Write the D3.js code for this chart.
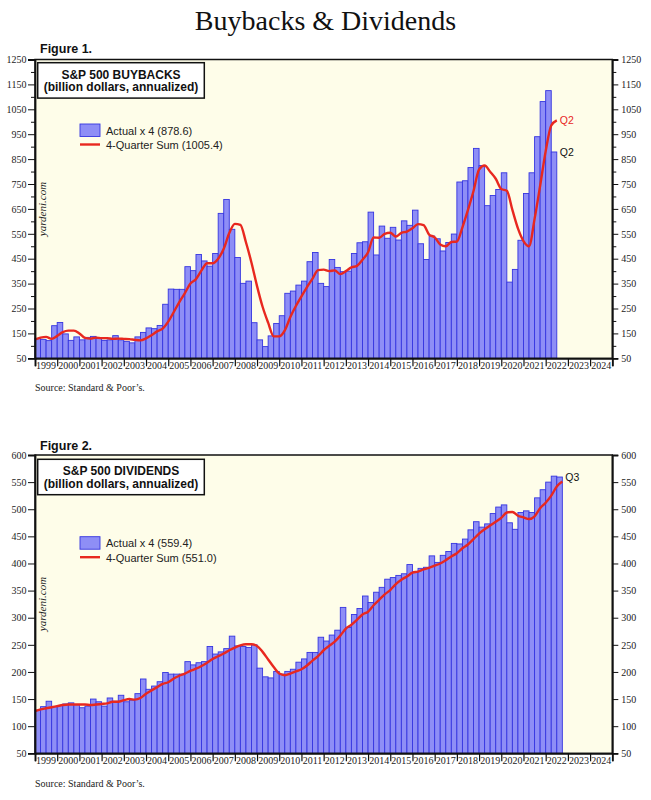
<!DOCTYPE html>
<html><head><meta charset="utf-8">
<script src="https://cdn.jsdelivr.net/npm/d3@7"></script>
<style>body{margin:0;background:#fff} svg{display:block}</style>
</head><body>
<svg id="c" width="651" height="800"></svg>
<script>
// ---- DATA ----
const years = ["1999","2000","2001","2002","2003","2004","2005","2006","2007","2008","2009","2010","2011","2012","2013","2014","2015","2016","2017","2018","2019","2020","2021","2022","2023","2024"];
const startYear = 1999;

// Buybacks, actual x 4 (quarterly, 1999Q1 .. 2022Q2)
const buybacksActual = [
  129,126,121,181, 194,148,122,136, 124,134,138,130, 122,124,141,124,
  118,112,136,154, 172,169,182,267, 328,327,327,418, 402,467,441,420,
  471,632,688,568, 455,351,360,193, 124,97,140,190, 221,311,320,344,
  360,438,475,351, 338,447,415,398, 400,471,514,518, 637,465,581,532,
  576,525,602,584, 645,510,447,541, 530,481,515,549, 758,763,816,893,
  824,663,704,728, 795,356,407,524, 712,795,940,1081, 1125,878.6
];
// Buybacks, 4-quarter sum (quarter ends, 1998Q4 .. 2022Q2)
const buybacksSum = [
  126,
  133,136,128,140, 155,161,161,150, 132,129,133,131, 131,128,129,128,
  127,124,122,130, 143,158,169,197, 236,276,312,350, 368,403,432,432,
  450,490,553,590, 586,516,434,340, 257,193,138,138, 162,216,260,299,
  336,370,404,406, 400,403,388,400, 415,421,446,476, 535,534,550,554,
  539,554,559,572, 589,585,547,536, 507,500,517,519, 576,646,722,808,
  824,799,771,730, 723,646,572,521, 500,610,743,882, 985,1005.4
];
// Dividends, actual x 4 (1999Q1 .. 2022Q3)
const dividendsActual = [
  129,136,146,136, 138,141,143,140, 134,137,150,145, 137,152,146,157,
  145,148,160,187, 168,174,182,199, 196,196,196,219, 213,217,219,247,
  233,237,243,266, 248,247,245,250, 207,191,189,201, 196,201,205,218,
  224,236,236,264, 257,268,277,319, 282,306,317,340, 328,347,356,371,
  374,378,381,398, 384,391,393,414, 402,415,422,437, 436,445,462,477,
  467,473,492,504, 508,475,463,494, 497,494,521,536, 550,561,559.4
];
// Dividends, 4-quarter sum (1998Q4 .. 2022Q3)
const dividendsSum = [
  128,
  131,133,135,137, 139,140,140,140, 140,139,140,141, 142,145,145,148,
  150,149,152,160, 166,172,178,181, 188,193,197,202, 206,211,217,224,
  229,234,240,245, 249,251,251,248, 237,223,209,197, 194,197,201,205,
  212,221,229,240, 248,256,267,280, 287,296,306,311, 323,333,343,351,
  362,370,376,383, 385,389,392,396, 400,406,413,419, 428,435,445,455,
  463,470,477,484, 494,495,488,485, 482,487,502,512, 525,542,551.0
];

// ---- DRAWING ----
const SERIF = "'Liberation Serif','Times New Roman',serif";
const SANS = "'Liberation Sans',Arial,Helvetica,sans-serif";
const BAR_FILL = "#8e8ef6", BAR_STROKE = "#3535e0", RED = "#e8281f", BG = "#fefde9";

const svg = d3.select("#c");
svg.append("text").attr("x", 325.5).attr("y", 30).attr("text-anchor", "middle")
  .style("font-family", SERIF).style("font-size", "28px").attr("fill", "#111")
  .text("Buybacks & Dividends");

const x = d3.scaleLinear().domain([startYear, startYear + years.length]).range([35, 612.3]);

function panel(c) {
  const y = d3.scaleLinear().domain(c.yDomain).range([c.bottom, c.top]);
  const g = svg.append("g");

  g.append("text").attr("x", 40).attr("y", c.figY)
    .style("font-family", SANS).style("font-weight", "bold").style("font-size", "12.5px")
    .attr("fill", "#111").text(c.figLabel);

  g.append("rect").attr("x", x.range()[0]).attr("y", c.top)
    .attr("width", x.range()[1] - x.range()[0]).attr("height", c.bottom - c.top)
    .attr("fill", BG);

  // bars
  const bars = c.actual.map((v, i) => ({ t: startYear + i / 4, v }));
  g.append("g").selectAll("rect").data(bars).join("rect")
    .attr("x", d => x(d.t)).attr("width", d => x(d.t + 0.25) - x(d.t))
    .attr("y", d => y(d.v)).attr("height", d => y(c.yDomain[0]) - y(d.v))
    .attr("fill", BAR_FILL).attr("stroke", BAR_STROKE).attr("stroke-width", 0.9);

  // line
  const pts = c.sum.map((v, i) => ({ t: startYear + i / 4, v }));
  g.append("path").datum(pts)
    .attr("d", d3.line().x(d => x(d.t)).y(d => y(d.v)).curve(d3.curveMonotoneX))
    .attr("fill", "none").attr("stroke", RED).attr("stroke-width", 2.4)
    .attr("stroke-linejoin", "round");

  // frame
  g.append("rect").attr("x", x.range()[0]).attr("y", c.top)
    .attr("width", x.range()[1] - x.range()[0]).attr("height", c.bottom - c.top)
    .attr("fill", "none").attr("stroke", "#111").attr("stroke-width", 1.5);

  // y axes
  const styleAxis = sel => {
    sel.select(".domain").attr("stroke", "#111").attr("stroke-width", 1.8);
    sel.selectAll(".tick line").attr("stroke", "#111").attr("stroke-width", 1);
    sel.selectAll(".tick text").style("font-family", SERIF).style("font-size", "10px").attr("fill", "#222");
  };
  g.append("g").attr("transform", `translate(${x.range()[0]},0)`)
    .call(d3.axisLeft(y).tickValues(c.major).tickSize(7).tickPadding(1.5).tickFormat(d3.format("d")))
    .call(styleAxis);
  g.append("g").attr("transform", `translate(${x.range()[1]},0)`)
    .call(d3.axisRight(y).tickValues(c.major).tickSize(6).tickPadding(3).tickFormat(d3.format("d")))
    .call(styleAxis);
  if (c.minor.length) {
    g.append("g").attr("transform", `translate(${x.range()[0]},0)`)
      .call(d3.axisLeft(y).tickValues(c.minor).tickSize(4).tickFormat(""))
      .call(s => { s.select(".domain").remove(); s.selectAll("line").attr("stroke", "#111"); });
    g.append("g").attr("transform", `translate(${x.range()[1]},0)`)
      .call(d3.axisRight(y).tickValues(c.minor).tickSize(4).tickFormat(""))
      .call(s => { s.select(".domain").remove(); s.selectAll("line").attr("stroke", "#111"); });
  }

  // x axis
  const yearTicks = d3.range(startYear, startYear + years.length + 1);
  g.append("g").attr("transform", `translate(0,${c.bottom})`)
    .call(d3.axisBottom(x).tickValues(yearTicks).tickSize(8).tickFormat(""))
    .call(s => { s.select(".domain").attr("stroke", "#111").attr("stroke-width", 1.8);
                 s.selectAll(".tick line").attr("stroke", "#111").attr("stroke-width", 1.2); });
  g.append("g").selectAll("text").data(years).join("text")
    .attr("x", (d, i) => x(startYear + i + 0.5)).attr("y", c.bottom + 11)
    .attr("text-anchor", "middle").style("font-family", SERIF).style("font-size", "10px")
    .attr("fill", "#222").text(d => d);

  // title box
  g.append("rect").attr("x", 37.7).attr("y", c.boxY).attr("width", 166.6).attr("height", 35.4)
    .attr("fill", "#fff").attr("stroke", "#111").attr("stroke-width", 1.5);
  g.append("text").attr("x", 121).attr("y", c.boxY + 16).attr("text-anchor", "middle")
    .style("font-family", SANS).style("font-weight", "bold").style("font-size", "12px")
    .attr("fill", "#111").text(c.boxTitle);
  g.append("text").attr("x", 121).attr("y", c.boxY + 28.5).attr("text-anchor", "middle")
    .style("font-family", SANS).style("font-weight", "bold").style("font-size", "12px")
    .attr("fill", "#111").text("(billion dollars, annualized)");

  // legend
  g.append("rect").attr("x", 80).attr("y", c.legY).attr("width", 20).attr("height", 12.5)
    .attr("fill", BAR_FILL).attr("stroke", BAR_STROKE).attr("stroke-width", 0.9);
  g.append("text").attr("x", 106).attr("y", c.legY + 10.5)
    .style("font-family", SANS).style("font-size", "11px").attr("fill", "#222")
    .text(`Actual x 4 (${c.actual[c.actual.length - 1].toFixed(1)})`);
  g.append("line").attr("x1", 80).attr("x2", 100).attr("y1", c.legY + 20.5).attr("y2", c.legY + 20.5)
    .attr("stroke", RED).attr("stroke-width", 2.4);
  g.append("text").attr("x", 106).attr("y", c.legY + 25)
    .style("font-family", SANS).style("font-size", "11px").attr("fill", "#222")
    .text(`4-Quarter Sum (${c.sum[c.sum.length - 1].toFixed(1)})`);

  // watermark
  g.append("text").attr("transform", `translate(46,${c.wmY}) rotate(-90)`)
    .attr("text-anchor", "middle").style("font-family", SERIF).style("font-style", "italic")
    .style("font-size", "11px").attr("fill", "#222").text("yardeni.com");

  // end labels
  const tEnd = startYear + c.actual.length / 4;
  c.endLabels.forEach(l => {
    g.append("text").attr("x", x(tEnd) + 3).attr("y", y(l.v)).attr("dy", "0.35em")
      .style("font-family", SANS).style("font-size", "10.5px").attr("fill", l.color).text(l.text);
  });

  // source
  g.append("text").attr("x", 35).attr("y", c.srcY)
    .style("font-family", SERIF).style("font-size", "10px").attr("fill", "#222")
    .text("Source: Standard & Poor\u2019s.");
}

panel({
  top: 59.5, bottom: 358.3, yDomain: [50, 1250],
  major: d3.range(50, 1251, 100), minor: d3.range(100, 1250, 100),
  figLabel: "Figure 1.", figY: 53, boxY: 62.7, boxTitle: "S&P 500 BUYBACKS",
  legY: 124, wmY: 209, srcY: 391,
  actual: buybacksActual, sum: buybacksSum,
  endLabels: [
    { text: "Q2", v: buybacksSum[buybacksSum.length - 1], color: RED },
    { text: "Q2", v: buybacksActual[buybacksActual.length - 1], color: "#111" }
  ]
});

panel({
  top: 455, bottom: 753.3, yDomain: [50, 600],
  major: d3.range(50, 601, 50), minor: [],
  figLabel: "Figure 2.", figY: 450, boxY: 459.3, boxTitle: "S&P 500 DIVIDENDS",
  legY: 536.7, wmY: 604, srcY: 787,
  actual: dividendsActual, sum: dividendsSum,
  endLabels: [
    { text: "Q3", v: dividendsActual[dividendsActual.length - 1], color: "#111" }
  ]
});
</script>
</body></html>
